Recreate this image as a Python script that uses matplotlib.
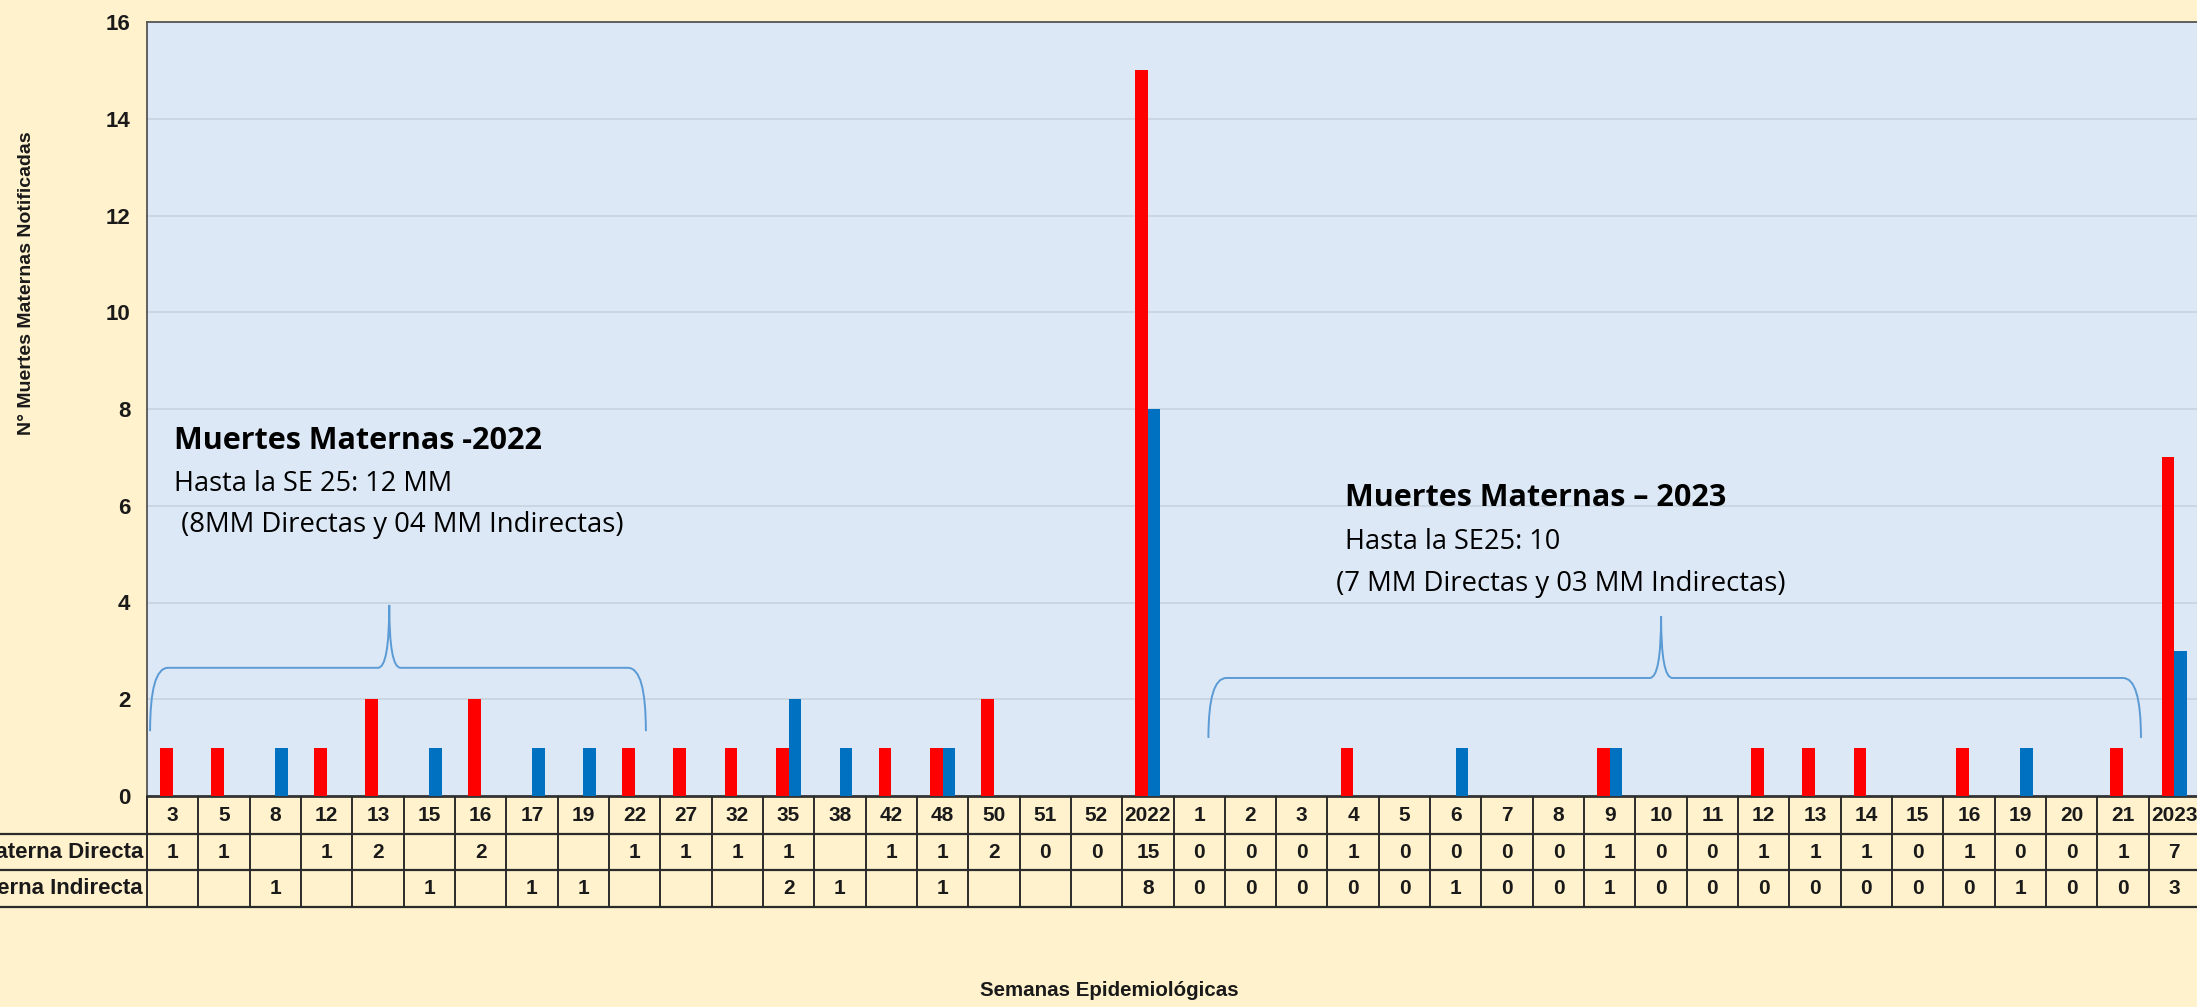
import numpy as np
import matplotlib
matplotlib.use('Agg')
import matplotlib.pyplot as plt
from matplotlib.path import Path
from matplotlib.patches import PathPatch

# semanas epidemiologicas (2022 y 2023)
semanas = ['3', '5', '8', '12', '13', '15', '16', '17', '19', '22', '27', '32', '35', '38', '42',
           '48', '50', '51', '52', '2022',
           '1', '2', '3', '4', '5', '6', '7', '8', '9', '10', '11', '12', '13', '14', '15', '16',
           '19', '20', '21', '2023']
directa = [1, 1, None, 1, 2, None, 2, None, None, 1, 1, 1, 1, None, 1, 1, 2, 0, 0, 15,
           0, 0, 0, 1, 0, 0, 0, 0, 1, 0, 0, 1, 1, 1, 0, 1, 0, 0, 1, 7]
indirecta = [None, None, 1, None, None, 1, None, 1, 1, None, None, None, 2, 1, None, 1, None, None, None, 8,
             0, 0, 0, 0, 0, 1, 0, 0, 1, 0, 0, 0, 0, 0, 0, 0, 1, 0, 0, 3]
filas = ['Muerte Materna Directa', 'Muerte Materna Indirecta']

NARROW = ['Liberation Sans Narrow', 'Liberation Sans', 'DejaVu Sans']
CAL = ['Open Sans', 'DejaVu Sans']
FONDO = '#FFF2CC'
AZUL_FONDO = '#DCE8F6'
ROJO = '#FF0000'
AZUL = '#0070C0'
LLAVE = '#5B9BD5'
TXT = '#1a1a1a'

W, H = 2197, 1007
fig = plt.figure(figsize=(W / 100, H / 100), dpi=100, facecolor=FONDO)

left, right = 147 / W, 2200 / W
ax = fig.add_axes([left, (H - 796) / H, right - left, (796 - 22) / H])
ax.set_facecolor(AZUL_FONDO)

x = np.arange(len(semanas))
d = np.array([np.nan if v is None else v for v in directa], dtype=float)
ind = np.array([np.nan if v is None else v for v in indirecta], dtype=float)
bw = 0.245
ax.bar(x - bw / 2, d, bw, color=ROJO, zorder=3)
ax.bar(x + bw / 2, ind, bw, color=AZUL, zorder=3)

ax.set_xlim(-0.5, len(semanas) - 0.5)
ax.set_ylim(0, 16)
ax.set_yticks(range(0, 17, 2))
ax.set_xticks([])
ax.yaxis.grid(True, color='#C7D3DE', linewidth=1.2, zorder=0)
ax.tick_params(axis='y', length=0, pad=12)
for t in ax.get_yticklabels():
    t.set_fontfamily(NARROW)
    t.set_fontweight('bold')
    t.set_fontsize(16)
    t.set_color(TXT)
for s in ['left', 'top']:
    ax.spines[s].set_color('#555555')
    ax.spines[s].set_linewidth(1.3)
ax.spines['right'].set_visible(False)
ax.spines['bottom'].set_color('#333333')
ax.spines['bottom'].set_linewidth(2)


def llave(x0, x1, xm, yh, ytip, ypk, r=0.35, r2=0.22):
    verts = [(x0, ytip), (x0, yh), (x0 + r, yh),
             (xm - r2, yh), (xm, yh), (xm, ypk),
             (xm, yh), (xm + r2, yh),
             (x1 - r, yh), (x1, yh), (x1, ytip)]
    codes = [Path.MOVETO, Path.CURVE3, Path.CURVE3,
             Path.LINETO, Path.CURVE3, Path.CURVE3,
             Path.CURVE3, Path.CURVE3,
             Path.LINETO, Path.CURVE3, Path.CURVE3]
    ax.add_patch(PathPatch(Path(verts, codes), fill=False, edgecolor=LLAVE,
                           linewidth=1.4, zorder=4, clip_on=False))


llave(-0.44, 9.22, 4.22, 2.65, 1.34, 3.95)
llave(20.18, 38.35, 29.0, 2.44, 1.2, 3.72)


# textos de resumen
def px(xp, yp):
    return xp / W, (H - yp) / H


fig.text(*px(174, 441), 'Muertes Maternas -2022', fontfamily=CAL, fontweight='bold',
         fontsize=22, va='center', ha='left', color='black')
fig.text(*px(174, 484), 'Hasta la SE 25: 12 MM', fontfamily=CAL, fontsize=19.5,
         va='center', ha='left', color='black')
fig.text(*px(174, 525), ' (8MM Directas y 04 MM Indirectas)', fontfamily=CAL, fontsize=19.8,
         va='center', ha='left', color='black')
fig.text(*px(1345, 498), 'Muertes Maternas \u2013 2023', fontfamily=CAL, fontweight='bold',
         fontsize=22, va='center', ha='left', color='black')
fig.text(*px(1345, 542), 'Hasta la SE25: 10', fontfamily=CAL, fontsize=19.5,
         va='center', ha='left', color='black')
fig.text(*px(1329, 584), ' (7 MM Directas y 03 MM Indirectas)', fontfamily=CAL, fontsize=19.8,
         va='center', ha='left', color='black')

# tabla de datos
tax = fig.add_axes([left, (H - 907) / H, right - left, (907 - 797) / H])
tax.set_xlim(-0.5, len(semanas) - 0.5)
tax.set_ylim(0, 3)
tax.axis('off')
xleft = -0.5 - 147 / ((2200 - 147) / len(semanas))
lc = '#2b2b2b'
for i in range(len(semanas) + 1):
    tax.plot([i - 0.5, i - 0.5], [0, 3], color=lc, linewidth=1.4, clip_on=False)
for yv in [0, 1, 2]:
    tax.plot([xleft, len(semanas) - 0.5], [yv, yv], color=lc, linewidth=1.6, clip_on=False)

tfont = dict(fontfamily=NARROW, fontweight='bold', fontsize=15, color=TXT,
             ha='center', va='center')
for i, s in enumerate(semanas):
    tax.text(i, 2.5, s, **tfont)
    if directa[i] is not None:
        tax.text(i, 1.5, str(directa[i]), **tfont)
    if indirecta[i] is not None:
        tax.text(i, 0.5, str(indirecta[i]), **tfont)
for k, nombre in enumerate(filas):
    tax.text(-0.58, 1.5 - k, nombre, fontfamily=NARROW, fontweight='bold', fontsize=16,
             color=TXT, ha='right', va='center', clip_on=False)

fig.text(*px(27, 283), 'N\u00b0 Muertes Maternas Notificadas', rotation=90, fontfamily=NARROW,
         fontweight='bold', fontsize=14, color=TXT, ha='center', va='center')
fig.text(*px(1109, 991), 'Semanas Epidemiol\u00f3gicas', fontfamily=NARROW, fontweight='bold',
         fontsize=14.8, color=TXT, ha='center', va='center')

fig.savefig('out.png', dpi=100, facecolor=FONDO)
